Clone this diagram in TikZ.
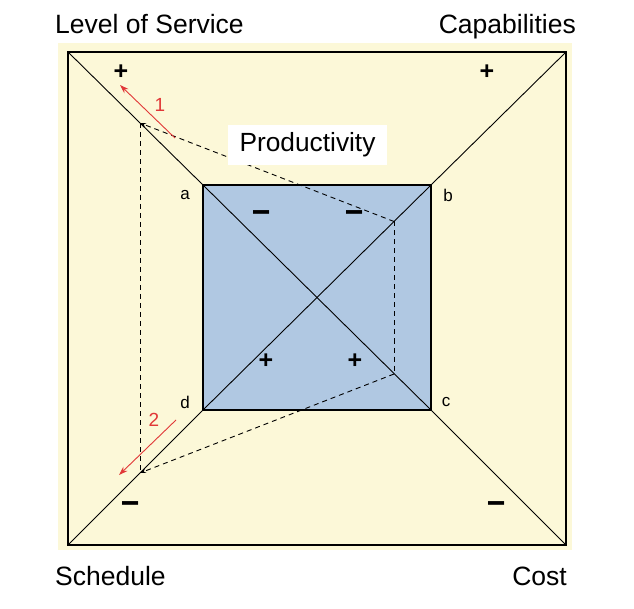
\documentclass[tikz,border=0pt]{standalone}
\usepackage{fontspec}
\setmainfont{Liberation Sans}
\usetikzlibrary{arrows.meta}
\definecolor{bgyellow}{RGB}{252,248,216}
\definecolor{boxblue}{RGB}{176,200,226}
\definecolor{arrowred}{RGB}{225,55,55}
\newcommand{\bigminus}{\scalebox{1.3}[1.5]{–}}
\begin{document}
\begin{tikzpicture}[x=1pt,y=-1pt,
  corner/.style={font=\fontsize{26.5}{30}\selectfont, inner sep=0pt},
  vertex/.style={font=\fontsize{17}{20}\selectfont, inner sep=0pt},
  sign/.style={font=\fontsize{25}{28}\selectfont\bfseries, inner sep=0pt},
  numlabel/.style={font=\fontsize{19}{22}\selectfont, text=arrowred, inner sep=0pt},
  diag/.style={line width=0.9pt},
  frame/.style={line width=1.5pt},
  dashline/.style={line width=0.9pt, dash pattern=on 5pt off 4pt},
  redarrow/.style={arrowred, line width=0.9pt, -{Stealth[length=9pt,width=6pt]}},
  smallarrow/.style={-{Stealth[length=6pt,width=4.5pt]}}]
\useasboundingbox (0,0) rectangle (634,609);
\fill[bgyellow] (58,43) rectangle (572,550);
% outer corners
\coordinate (TL) at (68,52);
\coordinate (TR) at (566,52);
\coordinate (BR) at (566,545);
\coordinate (BL) at (68,545);
% inner corners
\coordinate (a) at (203,185);
\coordinate (b) at (431,185);
\coordinate (c) at (431,410);
\coordinate (d) at (203,410);
\fill[boxblue] (a) rectangle (c);
\draw[diag] (TL) -- (a) -- (c) -- (BR);
\draw[diag] (TR) -- (b) -- (d) -- (BL);
\draw[frame] (TL) rectangle (BR);
\draw[frame] (a) rectangle (c);
% dashed construction points
\coordinate (P1) at (140,123);
\coordinate (P2) at (140,473);
\coordinate (Q1) at (394,221.5);
\coordinate (Q2) at (394,374);
\draw[dashline, smallarrow] (Q1) -- (P1);
\draw[dashline] (P1) -- (P2);
\draw[dashline] (Q1) -- (Q2);
\draw[dashline, smallarrow] (Q2) -- (P2);
% red arrows
\coordinate (R1s) at (175,138);
\coordinate (R1e) at (120,85);
\coordinate (R2s) at (176,420);
\coordinate (R2e) at (119,475);
\draw[redarrow] (R1s) -- (R1e);
\draw[redarrow] (R2s) -- (R2e);
\node[numlabel] (n1) at (160,105) {1};
\node[numlabel] (n2) at (154,420) {2};
% productivity label
\node[fill=white, minimum width=159pt, minimum height=40pt, inner sep=0pt,
      font=\fontsize{26.3}{30}\selectfont] (prod) at (307.5,145) {Productivity};
% corner labels
\node[corner, anchor=base west] (los) at (55,34) {Level of Service};
\node[corner, anchor=base east] (cap) at (576,34) {Capabilities};
\node[corner, anchor=base west] (sch) at (55,585) {Schedule};
\node[corner, anchor=base east] (cost) at (567,585) {Cost};
% vertex letters
\node[vertex] (la) at (185,195) {a};
\node[vertex] (lb) at (448,195) {b};
\node[vertex] (lc) at (446,402) {c};
\node[vertex] (ld) at (185,402) {d};
% signs
\node[sign] (s1) at (121,72) {+};
\node[sign] (s2) at (487,72) {+};
\node[sign] (s3) at (131,508) {\bigminus};
\node[sign] (s4) at (497,508) {\bigminus};
\node[sign] (s5) at (262,217) {\bigminus};
\node[sign] (s6) at (355,217) {\bigminus};
\node[sign] (s7) at (266,361) {+};
\node[sign] (s8) at (355,361) {+};
\end{tikzpicture}
\end{document}
